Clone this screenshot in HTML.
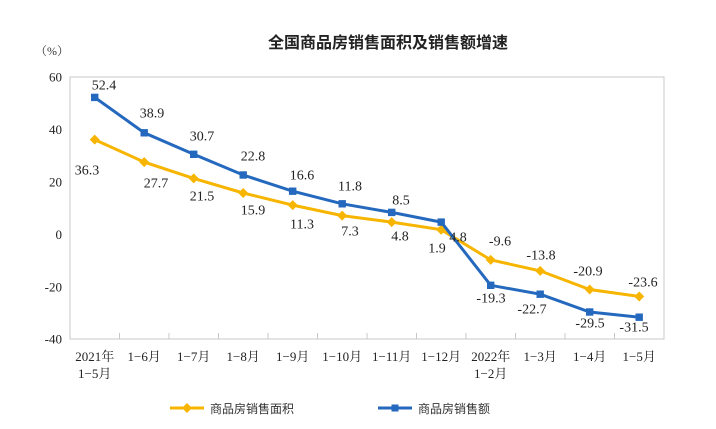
<!DOCTYPE html>
<html><head><meta charset="utf-8"><style>body{margin:0;background:#fff}svg{display:block}</style></head><body>
<svg width="716" height="429" xmlns="http://www.w3.org/2000/svg" font-family="'Liberation Serif','Noto Serif CJK SC',serif">
<text x="388" y="48" font-size="16" font-weight="bold" text-anchor="middle" fill="#222" font-family="'Liberation Sans','Noto Sans CJK SC',sans-serif">全国商品房销售面积及销售额增速</text>
<text x="52" y="55" font-size="12" text-anchor="middle" fill="#333">（%）</text>
<rect x="70" y="77" width="594" height="262" fill="none" stroke="#c8c8c8" stroke-width="1"/>
<g stroke="#c8c8c8"><line x1="119.5" y1="333" x2="119.5" y2="339"/><line x1="169" y1="333" x2="169" y2="339"/><line x1="218.5" y1="333" x2="218.5" y2="339"/><line x1="268" y1="333" x2="268" y2="339"/><line x1="317.5" y1="333" x2="317.5" y2="339"/><line x1="367" y1="333" x2="367" y2="339"/><line x1="416.5" y1="333" x2="416.5" y2="339"/><line x1="466" y1="333" x2="466" y2="339"/><line x1="515.5" y1="333" x2="515.5" y2="339"/><line x1="565" y1="333" x2="565" y2="339"/><line x1="614.5" y1="333" x2="614.5" y2="339"/></g>
<g font-size="13" text-anchor="end" fill="#222" dominant-baseline="central"><text x="62" y="77">60</text><text x="62" y="129.4">40</text><text x="62" y="181.8">20</text><text x="62" y="234.7">0</text><text x="62" y="287">-20</text><text x="62" y="339">-40</text></g>
<g font-size="13" text-anchor="middle" fill="#222"><text x="94.7" y="361">2021年</text><text x="94.7" y="378">1−5月</text><text x="144.2" y="361">1−6月</text><text x="193.7" y="361">1−7月</text><text x="243.2" y="361">1−8月</text><text x="292.7" y="361">1−9月</text><text x="342.2" y="361">1−10月</text><text x="391.7" y="361">1−11月</text><text x="441.2" y="361">1−12月</text><text x="490.7" y="361">2022年</text><text x="490.7" y="378">1−2月</text><text x="540.2" y="361">1−3月</text><text x="589.7" y="361">1−4月</text><text x="639.2" y="361">1−5月</text></g>
<polyline fill="none" stroke="#f7b500" stroke-width="3" points="94.7,139.6 144.2,162.1 193.7,178.4 243.2,193 292.7,205.1 342.2,215.6 391.7,222.1 441.2,229.7 490.7,259.9 540.2,270.9 589.7,289.5 639.2,296.5"/>
<g fill="#f7b500"><path d="M94.7 134.6l5 5-5 5-5-5z M144.2 157.1l5 5-5 5-5-5z M193.7 173.4l5 5-5 5-5-5z M243.2 188l5 5-5 5-5-5z M292.7 200.1l5 5-5 5-5-5z M342.2 210.6l5 5-5 5-5-5z M391.7 217.1l5 5-5 5-5-5z M441.2 224.7l5 5-5 5-5-5z M490.7 254.9l5 5-5 5-5-5z M540.2 265.9l5 5-5 5-5-5z M589.7 284.5l5 5-5 5-5-5z M639.2 291.5l5 5-5 5-5-5z"/></g>
<polyline fill="none" stroke="#2469be" stroke-width="3" points="94.7,97.4 144.2,132.8 193.7,154.3 243.2,175 292.7,191.2 342.2,203.8 391.7,212.4 441.2,222.1 490.7,285.3 540.2,294.2 589.7,312 639.2,317.2"/>
<g fill="#2469be"><rect x="91" y="93.7" width="7.4" height="7.4"/><rect x="140.5" y="129.1" width="7.4" height="7.4"/><rect x="190" y="150.6" width="7.4" height="7.4"/><rect x="239.5" y="171.3" width="7.4" height="7.4"/><rect x="289" y="187.5" width="7.4" height="7.4"/><rect x="338.5" y="200.1" width="7.4" height="7.4"/><rect x="388" y="208.7" width="7.4" height="7.4"/><rect x="437.5" y="218.4" width="7.4" height="7.4"/><rect x="487" y="281.6" width="7.4" height="7.4"/><rect x="536.5" y="290.5" width="7.4" height="7.4"/><rect x="586" y="308.3" width="7.4" height="7.4"/><rect x="635.5" y="313.5" width="7.4" height="7.4"/></g>
<g font-size="14" text-anchor="middle" fill="#222" dominant-baseline="central">
<text x="104" y="86">52.4</text><text x="152" y="114">38.9</text><text x="202" y="137">30.7</text><text x="253" y="157">22.8</text><text x="302" y="176">16.6</text><text x="350" y="187">11.8</text><text x="401" y="201">8.5</text><text x="458" y="238">4.8</text>
<text x="87" y="171">36.3</text><text x="156" y="184">27.7</text><text x="202" y="197">21.5</text><text x="253" y="211">15.9</text><text x="302" y="225">11.3</text><text x="350" y="232">7.3</text><text x="400" y="237">4.8</text><text x="437" y="249">1.9</text>
<text x="500" y="242">-9.6</text><text x="541" y="256">-13.8</text><text x="588" y="272">-20.9</text><text x="643" y="283">-23.6</text>
<text x="491" y="299">-19.3</text><text x="532" y="310">-22.7</text><text x="590" y="324">-29.5</text><text x="634" y="328">-31.5</text></g>
<line x1="170" y1="408" x2="204" y2="408" stroke="#f7b500" stroke-width="3"/><path d="M187 403l5 5-5 5-5-5z" fill="#f7b500"/>
<text x="210" y="413" font-size="12" fill="#333" font-family="'Liberation Sans','Noto Sans CJK SC',sans-serif">商品房销售面积</text>
<line x1="378" y1="408" x2="412" y2="408" stroke="#2469be" stroke-width="3"/><rect x="391.5" y="404.5" width="7" height="7" fill="#2469be"/>
<text x="418" y="413" font-size="12" fill="#333" font-family="'Liberation Sans','Noto Sans CJK SC',sans-serif">商品房销售额</text>
</svg>
</body></html>
